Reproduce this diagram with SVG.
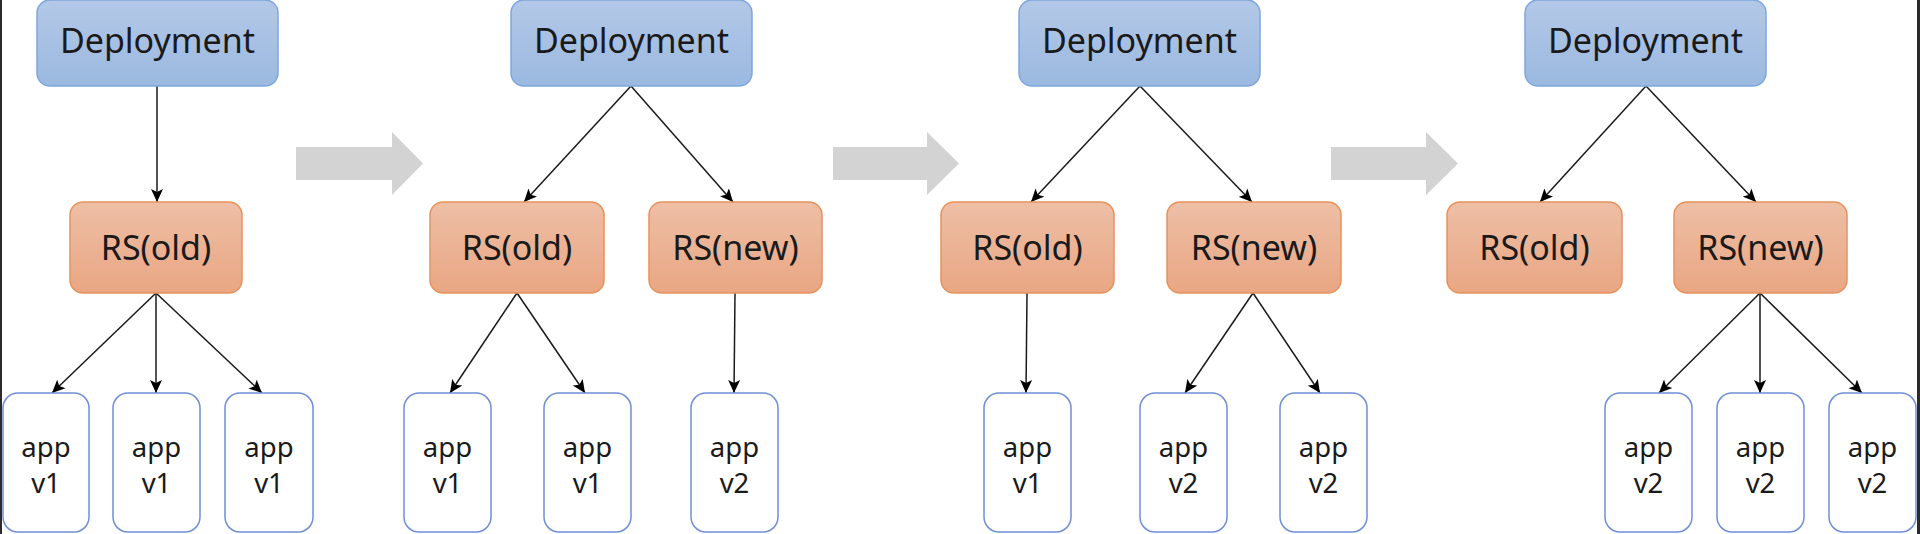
<svg xmlns="http://www.w3.org/2000/svg" width="1920" height="534" viewBox="0 0 1920 534">
<defs>
<linearGradient id="gBlue" x1="0" y1="0" x2="0" y2="1">
<stop offset="0" stop-color="#b3c8e7"/>
<stop offset="1" stop-color="#9bb9e0"/>
</linearGradient>
<linearGradient id="gOrange" x1="0" y1="0" x2="0" y2="1">
<stop offset="0" stop-color="#eebfa6"/>
<stop offset="1" stop-color="#e9a683"/>
</linearGradient>
<marker id="ah" markerUnits="userSpaceOnUse" markerWidth="15" markerHeight="13" refX="13" refY="6" orient="auto" viewBox="0 0 15 12">
<path d="M0,0 L13,6 L0,12 L3,6 Z" fill="#000"/>
</marker>
<style>
.dep{fill:url(#gBlue);stroke:#7ea6de;stroke-width:1.5}
.rs{fill:url(#gOrange);stroke:#e8925a;stroke-width:1.5}
.app{fill:#fff;stroke:#6f8fd6;stroke-width:1.5}
.t{font-family:"Noto Sans","Liberation Sans",sans-serif;fill:#1a1a1a;text-anchor:middle}
.tl{font-size:34px}
.ta{font-size:27.5px}
.c{stroke:#1a1a1a;stroke-width:1.5;fill:none;marker-end:url(#ah)}
.big{fill:#d3d3d3}
</style>
</defs>
<rect x="0" y="0" width="1920" height="534" fill="#fff"/>
<rect x="0" y="0" width="2" height="534" fill="#2b2b2b"/>
<rect x="1917" y="0" width="3" height="534" fill="#2b2b2b"/>

<g id="transitions">
<polygon class="big" points="296,147 392,147 392,132 423,163.5 392,195 392,180 296,180"/>
<polygon class="big" points="833,147 927,147 927,132 959,163.5 927,195 927,180 833,180"/>
<polygon class="big" points="1331,147 1426,147 1426,132 1458,163.5 1426,195 1426,180 1331,180"/>
</g>

<g id="connectors">
<line class="c" x1="157" y1="86" x2="157" y2="202"/>
<line class="c" x1="156" y1="293" x2="52" y2="393"/>
<line class="c" x1="156" y1="293" x2="156" y2="393"/>
<line class="c" x1="156" y1="293" x2="262" y2="393"/>

<line class="c" x1="631" y1="86" x2="524" y2="202"/>
<line class="c" x1="631" y1="86" x2="733" y2="202"/>
<line class="c" x1="517" y1="293" x2="450" y2="393"/>
<line class="c" x1="517" y1="293" x2="585" y2="393"/>
<line class="c" x1="735" y1="293" x2="734" y2="393"/>

<line class="c" x1="1140" y1="86" x2="1031" y2="202"/>
<line class="c" x1="1140" y1="86" x2="1252" y2="202"/>
<line class="c" x1="1027" y1="293" x2="1026" y2="393"/>
<line class="c" x1="1253" y1="293" x2="1185" y2="393"/>
<line class="c" x1="1253" y1="293" x2="1320" y2="393"/>

<line class="c" x1="1646" y1="86" x2="1540" y2="202"/>
<line class="c" x1="1646" y1="86" x2="1756" y2="202"/>
<line class="c" x1="1760" y1="293" x2="1659" y2="393"/>
<line class="c" x1="1760" y1="293" x2="1760" y2="393"/>
<line class="c" x1="1760" y1="293" x2="1862" y2="393"/>
</g>

<!-- Panel 1 -->
<g id="p1-deployment"><rect class="dep" x="37" y="0" width="241" height="86" rx="13"/><text class="t tl" x="157.5" y="53">Deployment</text></g>
<g id="p1-rs-old"><rect class="rs" x="70" y="202" width="172" height="91" rx="13"/><text class="t tl" x="156" y="260">RS(old)</text></g>
<g id="p1-app1"><rect class="app" x="3" y="393" width="86" height="139" rx="15"/><text class="t ta" x="46" y="457">app</text><text class="t ta" x="46" y="493">v1</text></g>
<g id="p1-app2"><rect class="app" x="113" y="393" width="87" height="139" rx="15"/><text class="t ta" x="156.5" y="457">app</text><text class="t ta" x="156.5" y="493">v1</text></g>
<g id="p1-app3"><rect class="app" x="225" y="393" width="88" height="139" rx="15"/><text class="t ta" x="269" y="457">app</text><text class="t ta" x="269" y="493">v1</text></g>

<!-- Panel 2 -->
<g id="p2-deployment"><rect class="dep" x="511" y="0" width="241" height="86" rx="13"/><text class="t tl" x="631.5" y="53">Deployment</text></g>
<g id="p2-rs-old"><rect class="rs" x="430" y="202" width="174" height="91" rx="13"/><text class="t tl" x="517" y="260">RS(old)</text></g>
<g id="p2-rs-new"><rect class="rs" x="649" y="202" width="173" height="91" rx="13"/><text class="t tl" x="735.5" y="260">RS(new)</text></g>
<g id="p2-app1"><rect class="app" x="404" y="393" width="87" height="139" rx="15"/><text class="t ta" x="447.5" y="457">app</text><text class="t ta" x="447.5" y="493">v1</text></g>
<g id="p2-app2"><rect class="app" x="544" y="393" width="87" height="139" rx="15"/><text class="t ta" x="587.5" y="457">app</text><text class="t ta" x="587.5" y="493">v1</text></g>
<g id="p2-app3"><rect class="app" x="691" y="393" width="87" height="139" rx="15"/><text class="t ta" x="734.5" y="457">app</text><text class="t ta" x="734.5" y="493">v2</text></g>

<!-- Panel 3 -->
<g id="p3-deployment"><rect class="dep" x="1019" y="0" width="241" height="86" rx="13"/><text class="t tl" x="1139.5" y="53">Deployment</text></g>
<g id="p3-rs-old"><rect class="rs" x="941" y="202" width="173" height="91" rx="13"/><text class="t tl" x="1027.5" y="260">RS(old)</text></g>
<g id="p3-rs-new"><rect class="rs" x="1167" y="202" width="174" height="91" rx="13"/><text class="t tl" x="1254" y="260">RS(new)</text></g>
<g id="p3-app1"><rect class="app" x="984" y="393" width="87" height="139" rx="15"/><text class="t ta" x="1027.5" y="457">app</text><text class="t ta" x="1027.5" y="493">v1</text></g>
<g id="p3-app2"><rect class="app" x="1140" y="393" width="87" height="139" rx="15"/><text class="t ta" x="1183.5" y="457">app</text><text class="t ta" x="1183.5" y="493">v2</text></g>
<g id="p3-app3"><rect class="app" x="1280" y="393" width="87" height="139" rx="15"/><text class="t ta" x="1323.5" y="457">app</text><text class="t ta" x="1323.5" y="493">v2</text></g>

<!-- Panel 4 -->
<g id="p4-deployment"><rect class="dep" x="1525" y="0" width="241" height="86" rx="13"/><text class="t tl" x="1645.5" y="53">Deployment</text></g>
<g id="p4-rs-old"><rect class="rs" x="1447" y="202" width="175" height="91" rx="13"/><text class="t tl" x="1534.5" y="260">RS(old)</text></g>
<g id="p4-rs-new"><rect class="rs" x="1674" y="202" width="173" height="91" rx="13"/><text class="t tl" x="1760.5" y="260">RS(new)</text></g>
<g id="p4-app1"><rect class="app" x="1605" y="393" width="87" height="139" rx="15"/><text class="t ta" x="1648.5" y="457">app</text><text class="t ta" x="1648.5" y="493">v2</text></g>
<g id="p4-app2"><rect class="app" x="1717" y="393" width="87" height="139" rx="15"/><text class="t ta" x="1760.5" y="457">app</text><text class="t ta" x="1760.5" y="493">v2</text></g>
<g id="p4-app3"><rect class="app" x="1829" y="393" width="87" height="139" rx="15"/><text class="t ta" x="1872.5" y="457">app</text><text class="t ta" x="1872.5" y="493">v2</text></g>
</svg>
